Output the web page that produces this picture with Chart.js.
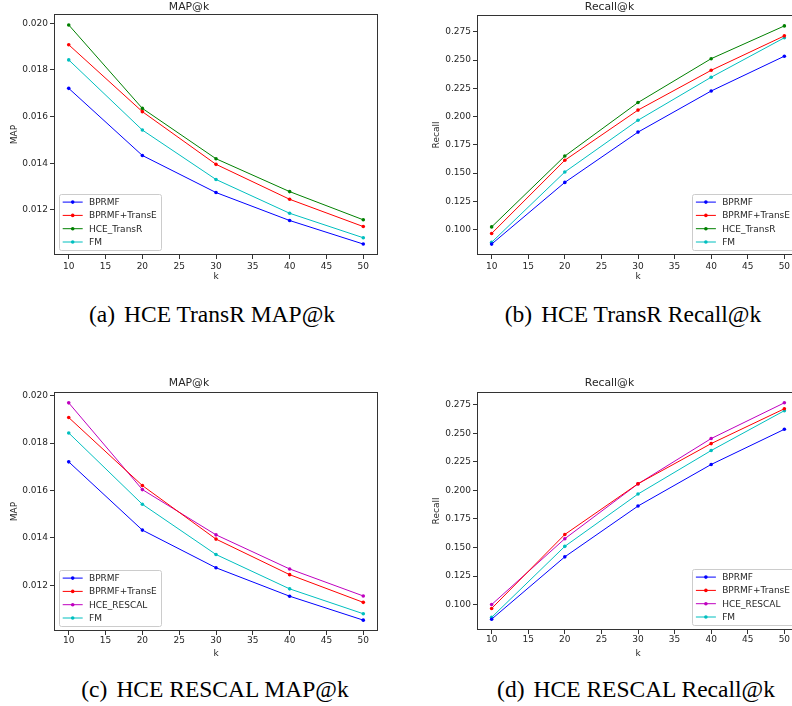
<!DOCTYPE html>
<html>
<head>
<meta charset="utf-8">
<script src="https://cdn.jsdelivr.net/npm/chart.js@4.4.0/dist/chart.umd.min.js"></script>
<style>
  html, body { margin: 0; padding: 0; background: #fff; }
  #page { position: relative; width: 792px; height: 706px; overflow: hidden; }
  canvas { position: absolute; }
  .cap {
    position: absolute;
    font-family: "Liberation Serif", "DejaVu Serif", serif;
    font-size: 23.5px;
    line-height: 24px;
    color: #000;
    white-space: nowrap;
    transform: translateX(-50%);
  }
  .cap span { margin-right: 9px; }
</style>
</head>
<body>
<div id="page">
  <canvas id="mapTransR"></canvas>
  <canvas id="recallTransR"></canvas>
  <canvas id="mapRescal"></canvas>
  <canvas id="recallRescal"></canvas>
  <div class="cap" style="left:212px;top:302px"><span>(a)</span>HCE TransR MAP@k</div>
  <div class="cap" style="left:633px;top:302px"><span>(b)</span>HCE TransR Recall@k</div>
  <div class="cap" style="left:215px;top:677px"><span>(c)</span>HCE RESCAL MAP@k</div>
  <div class="cap" style="left:636px;top:677px"><span>(d)</span>HCE RESCAL Recall@k</div>
</div>
<script>
// values
var kValues = [10, 20, 30, 40, 50];
var xTicks = [10, 15, 20, 25, 30, 35, 40, 45, 50];
var mapTicks = [0.012, 0.014, 0.016, 0.018, 0.020];
var recallTicks = [0.100, 0.125, 0.150, 0.175, 0.200, 0.225, 0.250, 0.275];

var bprmfMap = [0.01721, 0.01433, 0.01274, 0.01154, 0.01053];
var transeMap = [0.01908, 0.01621, 0.01395, 0.01245, 0.01128];
var transrMap = [0.01993, 0.01635, 0.01419, 0.01278, 0.01157];
var rescalMap = [0.01970, 0.01604, 0.01413, 0.01269, 0.01155];
var fmMap = [0.01843, 0.01542, 0.01330, 0.01185, 0.01080];

var bprmfRecall = [0.0872, 0.1418, 0.1863, 0.2227, 0.2535];
var transeRecall = [0.0966, 0.1614, 0.2058, 0.2410, 0.2715];
var transrRecall = [0.1024, 0.1651, 0.2125, 0.2513, 0.2803];
var rescalRecall = [0.1000, 0.1577, 0.2057, 0.2454, 0.2767];
var fmRecall = [0.0888, 0.1510, 0.1968, 0.2349, 0.2698];

var BLUE = "#0000ff", RED = "#ff0000", GREEN = "#008000", CYAN = "#00bfbf", MAGENTA = "#bf00bf";
var INK = "#262626";

Chart.defaults.font.family = '"DejaVu Sans", sans-serif';
Chart.defaults.font.size = 9;
Chart.defaults.color = INK;

// axes box like matplotlib spines
var frame = {
  id: "frame",
  afterDatasetsDraw: function (chart) {
    var a = chart.chartArea, ctx = chart.ctx;
    ctx.save();
    ctx.strokeStyle = "#333";
    ctx.lineWidth = 1;
    ctx.strokeRect(Math.round(a.left) + 0.5, Math.round(a.top) + 0.5,
      Math.round(a.right - a.left) - 1, Math.round(a.bottom - a.top) - 1);
    ctx.restore();
  }
};

// legend box inside the axes, lower left or lower right
var boxLegend = {
  id: "boxLegend",
  afterDraw: function (chart, args, o) {
    var ctx = chart.ctx, a = chart.chartArea;
    var items = chart.data.datasets;
    ctx.save();
    ctx.font = '9px "DejaVu Sans"';
    var textW = Math.max.apply(null, items.map(function (d) { return ctx.measureText(d.label).width; }));
    var rowH = 13.3;
    var w = 3.4 + 20 + 6.3 + textW + 4;
    var h = 16 + rowH * (items.length - 1);
    var x = o.side === "right" ? a.right - 5 - w : a.left + 5.3;
    var y = a.bottom - 5 - h;
    ctx.fillStyle = "rgba(255,255,255,0.8)";
    ctx.strokeStyle = "#cccccc";
    ctx.lineWidth = 1;
    ctx.beginPath();
    ctx.roundRect(Math.round(x) + 0.5, Math.round(y) + 0.5, Math.round(w), Math.round(h), 2);
    ctx.fill();
    ctx.stroke();
    items.forEach(function (d, i) {
      var yy = y + 8 + i * rowH;
      ctx.strokeStyle = d.borderColor;
      ctx.lineWidth = 1;
      ctx.beginPath();
      ctx.moveTo(x + 3.4, yy);
      ctx.lineTo(x + 23.4, yy);
      ctx.stroke();
      ctx.fillStyle = d.borderColor;
      ctx.beginPath();
      ctx.arc(x + 13.4, yy, 1.8, 0, Math.PI * 2);
      ctx.fill();
      ctx.fillStyle = INK;
      ctx.textBaseline = "middle";
      ctx.fillText(d.label, x + 29.7, yy + 0.5);
    });
    ctx.restore();
  }
};

function line(label, data, color) {
  return {
    label: label,
    data: data.map(function (v, i) { return { x: kValues[i], y: v }; }),
    borderColor: color,
    backgroundColor: color,
    borderWidth: 1,
    pointRadius: 1.8,
    pointBorderWidth: 0,
    pointBackgroundColor: color,
    tension: 0
  };
}

function padRange(series) {
  var all = [].concat.apply([], series);
  var lo = Math.min.apply(null, all), hi = Math.max.apply(null, all);
  var m = (hi - lo) * 0.05;
  return [lo - m, hi + m];
}

function panel(id, g) {
  var canvas = document.getElementById(id);
  canvas.width = g.w;
  canvas.height = g.h;
  canvas.style.left = g.left + "px";
  canvas.style.top = g.top + "px";
  var range = padRange(g.series);
  var yAxisW = g.box[0] - g.left;
  var titleBlock = g.box[1] - g.top;
  var xAxisH = g.top + g.h - g.box[3];
  var padRight = g.left + g.w - g.box[2];

  new Chart(canvas, {
    type: "line",
    data: { datasets: g.datasets },
    options: {
      responsive: false,
      animation: false,
      events: [],
      layout: { padding: { left: 0, right: padRight, top: 0, bottom: 0 } },
      plugins: {
        legend: { display: false },
        tooltip: { enabled: false },
        title: {
          display: true,
          text: g.title,
          color: INK,
          font: { size: 10.8, weight: "normal" },
          padding: { top: g.titleTop, bottom: titleBlock - g.titleTop - 12.96 }
        },
        boxLegend: { side: g.legendSide }
      },
      scales: {
        x: {
          type: "linear",
          min: 8,
          max: 52,
          afterBuildTicks: function (s) { s.ticks = xTicks.map(function (v) { return { value: v }; }); },
          afterFit: function (s) { s.height = xAxisH; },
          border: { display: false },
          grid: { display: true, drawOnChartArea: false, drawTicks: true, tickLength: 4, color: "#333" },
          ticks: { padding: g.xTickPad, color: INK, maxRotation: 0, callback: function (v) { return v; } },
          title: { display: true, text: "k", color: INK, padding: { top: 0, bottom: g.kPad } }
        },
        y: {
          type: "linear",
          min: range[0],
          max: range[1],
          afterBuildTicks: function (s) { s.ticks = g.yTicks.map(function (v) { return { value: v }; }); },
          afterFit: function (s) { s.width = yAxisW; },
          border: { display: false },
          grid: { display: true, drawOnChartArea: false, drawTicks: true, tickLength: 4, color: "#333" },
          ticks: { padding: 2, color: INK, callback: function (v) { return v.toFixed(3); } },
          title: { display: true, text: g.yLabel, color: INK, padding: { top: g.yLabelPad, bottom: 0 } }
        }
      }
    },
    plugins: [frame, boxLegend]
  });
}

panel("mapTransR", {
  left: 0, top: 0, w: 400, h: 290, box: [54, 14, 378, 255],
  title: "MAP@k", titleTop: 0.5, yLabel: "MAP", yLabelPad: 9, xTickPad: 2, kPad: 8,
  yTicks: mapTicks, legendSide: "left",
  series: [bprmfMap, transeMap, transrMap, fmMap],
  datasets: [line("BPRMF", bprmfMap, BLUE), line("BPRMF+TransE", transeMap, RED),
             line("HCE_TransR", transrMap, GREEN), line("FM", fmMap, CYAN)]
});

panel("recallTransR", {
  left: 420, top: 0, w: 400, h: 290, box: [477, 15, 799, 255],
  title: "Recall@k", titleTop: 0.5, yLabel: "Recall", yLabelPad: 11.5, xTickPad: 2, kPad: 8,
  yTicks: recallTicks, legendSide: "right",
  series: [bprmfRecall, transeRecall, transrRecall, fmRecall],
  datasets: [line("BPRMF", bprmfRecall, BLUE), line("BPRMF+TransE", transeRecall, RED),
             line("HCE_TransR", transrRecall, GREEN), line("FM", fmRecall, CYAN)]
});

panel("mapRescal", {
  left: 0, top: 375, w: 400, h: 290, box: [54, 392, 378, 631],
  title: "MAP@k", titleTop: 1.5, yLabel: "MAP", yLabelPad: 9, xTickPad: 0, kPad: 6,
  yTicks: mapTicks, legendSide: "left",
  series: [bprmfMap, transeMap, rescalMap, fmMap],
  datasets: [line("BPRMF", bprmfMap, BLUE), line("BPRMF+TransE", transeMap, RED),
             line("HCE_RESCAL", rescalMap, MAGENTA), line("FM", fmMap, CYAN)]
});

panel("recallRescal", {
  left: 420, top: 375, w: 400, h: 290, box: [477, 392, 799, 630],
  title: "Recall@k", titleTop: 1.5, yLabel: "Recall", yLabelPad: 11.5, xTickPad: 0, kPad: 6,
  yTicks: recallTicks, legendSide: "right",
  series: [bprmfRecall, transeRecall, rescalRecall, fmRecall],
  datasets: [line("BPRMF", bprmfRecall, BLUE), line("BPRMF+TransE", transeRecall, RED),
             line("HCE_RESCAL", rescalRecall, MAGENTA), line("FM", fmRecall, CYAN)]
});
</script>
</body>
</html>
